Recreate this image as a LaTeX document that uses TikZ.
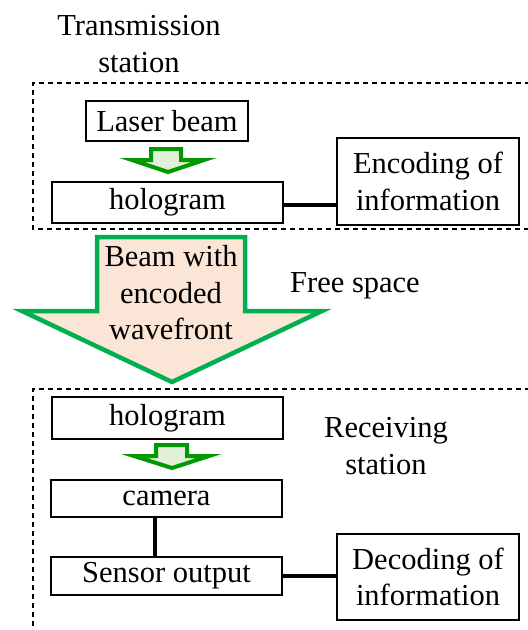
\documentclass[tikz,border=0pt]{standalone}
\usepackage{fontspec}
\setmainfont{Liberation Serif}
\usetikzlibrary{positioning}

\definecolor{arrowgreen}{RGB}{0,153,0}
\definecolor{lightgreen}{RGB}{226,240,217}
\definecolor{beamgreen}{RGB}{0,176,80}
\definecolor{beampeach}{RGB}{251,229,214}

\tikzset{
  box/.style={draw, line width=1.6pt, inner sep=0pt, align=center},
  link/.style={line width=3.5pt},
  station/.style={line width=1.3pt, dash pattern=on 5pt off 4pt},
  smallarrow/.style={draw=arrowgreen, fill=lightgreen, line width=4pt},
  bigarrow/.style={draw=beamgreen, fill=beampeach, line width=4.5pt},
  lbl/.style={align=center, inner sep=0pt}
}

\begin{document}
\begin{tikzpicture}[x=1pt,y=-1pt,font=\fontsize{30.5}{36.5}\selectfont]
\useasboundingbox (0,0) rectangle (528,630);

% stations
\draw[station] (530,83) -- (33,83) -- (33,229) -- (530,229);
\draw[station] (530,389) -- (33,389) -- (33,632);
\node[lbl] (trans) at (139,44) {Transmission\\station};
\node[lbl] (recv) at (386,446) {Receiving\\station};

% transmission side
\node[box, minimum width=162pt, minimum height=40pt] (laser) at (167,121) {Laser beam};
\node[box, minimum width=231pt, minimum height=41pt] (holoT) at (167.5,202.5) {hologram};
\node[box, minimum width=182pt, minimum height=87pt] (enc) at (428,181.5) {Encoding of\\information};
\draw[link] ([yshift=-2.5pt]holoT.east) -- ([yshift=-2.5pt]holoT.east -| enc.west);
\draw[smallarrow] (151,149) -- (181,149) -- (181,160) -- (204,160) -- (168,172) -- (132,160) -- (151,160) -- cycle;

% free space
\draw[bigarrow] (97,237) -- (245,237) -- (245,311) -- (322,311) -- (172,382) -- (22,311) -- (97,311) -- cycle;
\node[lbl] (beam) at (171,293) {Beam with\\encoded\\wavefront};
\node[lbl] (free) at (355,286) {Free space};

% receiving side
\node[box, minimum width=231pt, minimum height=42pt] (holoR) at (167.5,418) {hologram};
\node[box, minimum width=231pt, minimum height=37pt] (cam) at (166.5,498.5) {camera};
\node[box, minimum width=231pt, minimum height=38pt] (sens) at (166.5,576) {Sensor output};
\node[box, minimum width=182pt, minimum height=86pt] (dec) at (428,577) {Decoding of\\information};
\draw[smallarrow] (156,445) -- (187,445) -- (187,456) -- (209,456) -- (172,468) -- (134,456) -- (156,456) -- cycle;
\draw[link] ([xshift=-11.5pt]cam.south) -- ([xshift=-11.5pt]cam.south |- sens.north);
\draw[link] (sens.east) -- (sens.east -| dec.west);

\end{tikzpicture}
\end{document}
